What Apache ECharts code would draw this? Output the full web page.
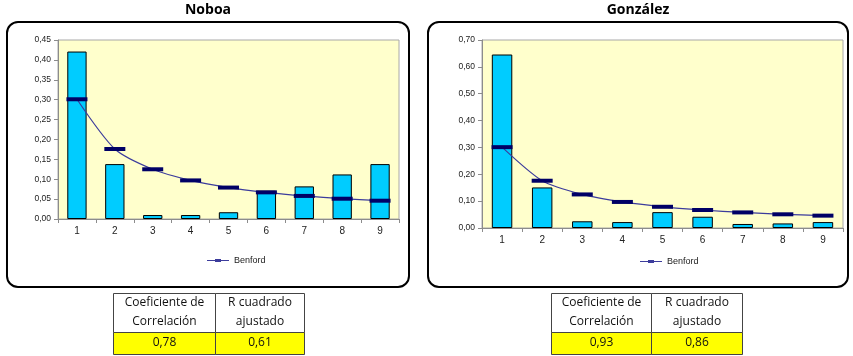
<!DOCTYPE html>
<html>
<head>
<meta charset="utf-8">
<script src="https://cdn.jsdelivr.net/npm/echarts@6/dist/echarts.min.js"></script>
<style>
html,body{margin:0;padding:0;background:#fff;}
#c{width:853px;height:356px;}
</style>
</head>
<body>
<div id="c"></div>
<script>
// ---- data ----
var digits = ['1','2','3','4','5','6','7','8','9'];
var noboaValues = [0.421, 0.138, 0.010, 0.010, 0.017, 0.071, 0.082, 0.112, 0.138];
var gonzalezValues = [0.646, 0.151, 0.025, 0.022, 0.059, 0.042, 0.015, 0.017, 0.022];
var benfordValues = [0.301, 0.176, 0.125, 0.097, 0.079, 0.067, 0.058, 0.051, 0.046];
var chartTitles = ['Noboa', 'González'];
var tableHeaders = [['Coeficiente de', 'Correlación'], ['R cuadrado', 'ajustado']];
var noboaStats = ['0,78', '0,61'];
var gonzalezStats = ['0,93', '0,86'];

// ---- layout ----
var panels = [
  {box:[7,22,402,265], titleX:208, grid:{left:58, top:40, width:341, height:179}, max:0.45, interval:0.05, legendX:202, legendY:251, values:noboaValues, table:{x:113, split:215, right:304}, stats:noboaStats},
  {box:[428,22,420,265], titleX:638, grid:{left:482, top:40, width:361, height:188}, max:0.70, interval:0.10, legendX:635, legendY:252, values:gonzalezValues, table:{x:551, split:651, right:742}, stats:gonzalezStats}
];

var fmt = function(v){ return v.toFixed(2).replace('.', ','); };

var graphics = [];
var grids = [], xAxes = [], yAxes = [], series = [], legends = [];

panels.forEach(function(p, i){
  graphics.push({type:'rect', z:-10, silent:true,
    shape:{x:p.box[0], y:p.box[1], width:p.box[2], height:p.box[3], r:11},
    style:{fill:'#fff', stroke:'#000', lineWidth:2}});
  graphics.push({type:'text', silent:true,
    style:{text:chartTitles[i], x:p.titleX, y:10, textAlign:'center', textVerticalAlign:'middle',
      font:'bold 14px "Open Sans", sans-serif', fill:'#000'}});

  // table
  var t = p.table, y0 = 293, y1 = 332, y2 = 354;
  var cols = [[t.x, t.split], [t.split, t.right]];
  cols.forEach(function(c, j){
    graphics.push({type:'rect', silent:true, shape:{x:c[0]+0.5, y:y0+0.5, width:c[1]-c[0], height:y1-y0},
      style:{fill:'#fff', stroke:'#444', lineWidth:1}});
    graphics.push({type:'rect', silent:true, shape:{x:c[0]+0.5, y:y1+0.5, width:c[1]-c[0], height:y2-y1},
      style:{fill:'#ffff00', stroke:'#444', lineWidth:1}});
    tableHeaders[j].forEach(function(line, k){
      graphics.push({type:'text', silent:true,
        style:{text:line, x:(c[0]+c[1])/2+0.5, y:303+k*19, textAlign:'center', textVerticalAlign:'middle',
          font:'12px "Open Sans", sans-serif', fill:'#111'}});
    });
    graphics.push({type:'text', silent:true,
      style:{text:p.stats[j], x:(c[0]+c[1])/2+0.5, y:343, textAlign:'center', textVerticalAlign:'middle',
        font:'12px "Open Sans", sans-serif', fill:'#111'}});
  });

  grids.push({left:p.grid.left, top:p.grid.top, width:p.grid.width, height:p.grid.height,
    show:true, backgroundColor:'#ffffcc', borderColor:'#a8a8a8', borderWidth:1, containLabel:false});
  xAxes.push({type:'category', gridIndex:i, data:digits,
    axisLine:{lineStyle:{color:'#8c8c8c', width:1}},
    axisTick:{show:true, length:4, lineStyle:{color:'#8c8c8c'}},
    axisLabel:{fontSize:10, color:'#222', margin:7, fontFamily:'"Liberation Sans", Arial, sans-serif'}});
  yAxes.push({type:'value', gridIndex:i, min:0, max:p.max, interval:p.interval,
    axisLine:{show:true, lineStyle:{color:'#8c8c8c', width:1}},
    axisTick:{show:true, length:4, lineStyle:{color:'#8c8c8c'}},
    splitLine:{show:false},
    axisLabel:{fontSize:8.5, color:'#222', margin:7, formatter:fmt, fontFamily:'"Liberation Sans", Arial, sans-serif'}});
  series.push({type:'bar', name:chartTitles[i], xAxisIndex:i, yAxisIndex:i, data:p.values,
    barWidth:'51%', itemStyle:{color:'#00ccff', borderColor:'#000', borderWidth:1}, z:2});
  series.push({type:'line', name:'Benford', xAxisIndex:i, yAxisIndex:i, data:benfordValues,
    smooth:0.25, symbol:'rect', symbolSize:[21,4], showSymbol:true,
    lineStyle:{color:'#3c3c9c', width:1.2}, itemStyle:{color:'#000066'}, z:3});
  legends.push({data:[{name:'Benford', icon:'path://M0,1.5 L22,1.5 L22,2.5 L0,2.5 Z M8,0.5 L14,0.5 L14,3.5 L8,3.5 Z'}],
    left:p.legendX, top:p.legendY, itemWidth:22, itemHeight:4, itemGap:2,
    textStyle:{fontSize:9, color:'#222', fontFamily:'"Liberation Sans", Arial, sans-serif'},
    itemStyle:{color:'#3c3c9c'}, selectedMode:false});
});

var chart = echarts.init(document.getElementById('c'), null, {renderer:'canvas'});
chart.setOption({
  animation:false,
  backgroundColor:'#fff',
  graphic:graphics,
  legend:legends,
  grid:grids,
  xAxis:xAxes,
  yAxis:yAxes,
  series:series
});
</script>
</body>
</html>
